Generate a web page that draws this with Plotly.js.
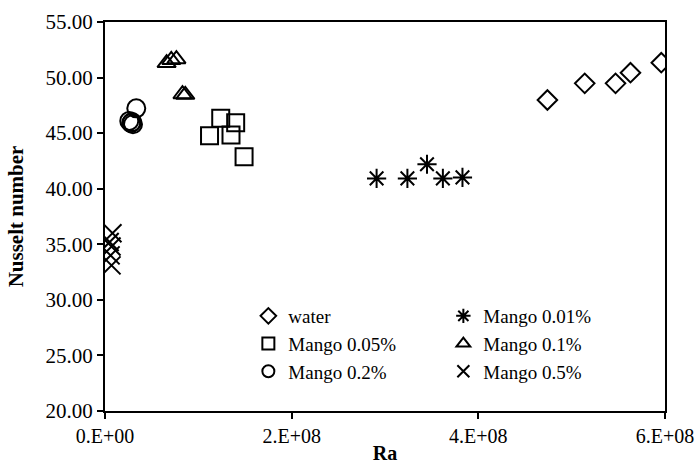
<!DOCTYPE html>
<html>
<head>
<meta charset="utf-8">
<script src="https://cdn.plot.ly/plotly-3.0.1.min.js"></script>
<style>html,body{margin:0;padding:0;background:#fff;}#chart{width:695px;height:476px;}</style>
</head>
<body>
<div id="chart"></div>
<script>
// ---- data ----
const waterRa = [4.74e8, 5.14e8, 5.47e8, 5.63e8, 5.96e8];
const waterNu = [47.98, 49.48, 49.48, 50.44, 51.34];

const m001Ra = [2.91e8, 3.24e8, 3.45e8, 3.62e8, 3.83e8];
const m001Nu = [40.93, 40.93, 42.20, 40.93, 41.02];

const m005Ra = [1.24e8, 1.40e8, 1.12e8, 1.35e8, 1.49e8];
const m005Nu = [46.33, 45.94, 44.77, 44.83, 42.88];

const m01Ra = [0.66e8, 0.71e8, 0.765e8, 0.83e8, 0.86e8];
const m01Nu = [51.30, 51.58, 51.65, 48.50, 48.45];

const m02Ra = [0.335e8, 0.26e8, 0.28e8, 0.30e8, 0.29e8];
const m02Nu = [47.23, 46.10, 45.90, 45.80, 46.00];

const m05Ra = [0.08e8, 0.05e8, 0.07e8, 0.06e8, 0.07e8];
const m05Nu = [36.00, 35.20, 34.80, 34.00, 33.10];

const seriesNames = ["water", "Mango 0.01%", "Mango 0.05%", "Mango 0.1%", "Mango 0.2%", "Mango 0.5%"];

const xTickVals = [0, 2e8, 4e8, 6e8];
const xTickText = ["0.E+00", "2.E+08", "4.E+08", "6.E+08"];

const yTickVals = [20, 25, 30, 35, 40, 45, 50, 55];
const yTickText = ["20.00", "25.00", "30.00", "35.00", "40.00", "45.00", "50.00", "55.00"];

// ---- drawing ----
const FONT = "'Liberation Serif', 'Times New Roman', Times, serif";
function tr(x, y, name, symbol, size) {
  return {
    type: "scatter", mode: "markers", x: x, y: y, name: name,
    marker: { symbol: symbol, size: size, color: "#000",
              line: { color: "#000", width: 2 } },
    hoverinfo: "x+y+name"
  };
}
const traces = [
  tr(waterRa, waterNu, seriesNames[0], "diamond-open", 15),
  tr(m001Ra, m001Nu, seriesNames[1], "asterisk-open", 16),
  tr(m005Ra, m005Nu, seriesNames[2], "square-open", 17),
  tr(m01Ra, m01Nu, seriesNames[3], "triangle-up-open", 16),
  tr(m02Ra, m02Nu, seriesNames[4], "circle-open", 18),
  tr(m05Ra, m05Nu, seriesNames[5], "x-thin-open", 18)
];

const layout = {
  width: 695, height: 476,
  margin: { l: 105, r: 30, t: 22, b: 65 },
  paper_bgcolor: "#fff", plot_bgcolor: "#fff",
  font: { family: FONT, size: 20, color: "#000" },
  showlegend: true,
  legend: {
    orientation: "h", x: 0.256, xanchor: "left", y: 0.293, yanchor: "top",
    bgcolor: "rgba(0,0,0,0)", font: { family: FONT, size: 19, color: "#000" },
    entrywidth: 150, entrywidthmode: "pixels", itemwidth: 30, itemsizing: "constant"
  },
  xaxis: {
    range: [0, 6e8], tickmode: "array", tickvals: xTickVals, ticktext: xTickText,
    showgrid: false, zeroline: false, showline: true, linecolor: "#000", linewidth: 2,
    mirror: true, ticks: "outside", ticklen: 6, tickwidth: 2, tickcolor: "#000",
    ticklabeloverflow: "allow",
    tickfont: { family: FONT, size: 20, color: "#000" },
    title: { text: "<b>Ra</b>", font: { family: FONT, size: 20, color: "#000" }, standoff: 0 }
  },
  yaxis: {
    range: [20, 55], tickmode: "array", tickvals: yTickVals, ticktext: yTickText,
    showgrid: false, zeroline: false, showline: true, linecolor: "#000", linewidth: 2,
    mirror: true, ticks: "outside", ticklen: 6, tickwidth: 2, tickcolor: "#000",
    tickfont: { family: FONT, size: 21, color: "#000" },
    title: { text: "<b>Nusselt number</b>", font: { family: FONT, size: 21, color: "#000" }, standoff: 16 }
  }
};

Plotly.newPlot("chart", traces, layout, { displayModeBar: false, staticPlot: true });
</script>
</body>
</html>
